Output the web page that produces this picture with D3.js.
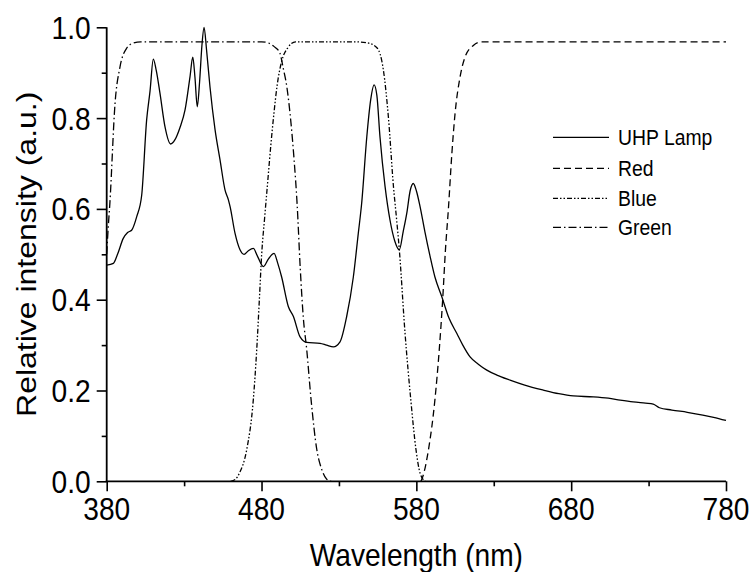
<!DOCTYPE html>
<html><head><meta charset="utf-8">
<script src="https://cdn.jsdelivr.net/npm/d3@7"></script>
<style>html,body{margin:0;padding:0;background:#fff;}svg{display:block;}</style>
</head><body>
<script>
// ---- data ----
const xTicks = [380, 480, 580, 680, 780];
const yTicks = [0.0, 0.2, 0.4, 0.6, 0.8, 1.0];
const seriesNames = ["UHP Lamp", "Red", "Blue", "Green"];

const uhpLamp = [
[380,0.476],[384.3,0.48],[387,0.50],[390.7,0.535],[393.5,0.548],[396.1,0.553],[399.4,0.583],[402.6,0.63],
[405.8,0.796],[408,0.86],[410.1,0.93],[412,0.905],[414.4,0.855],[417.7,0.78],[421.3,0.743],[424,0.752],
[427.4,0.78],[430.6,0.818],[433.8,0.891],[435.6,0.934],[437,0.89],[438.5,0.825],[440,0.88],[441.5,0.96],
[442.9,1.0],[444.5,0.95],[446.7,0.869],[450,0.774],[453.2,0.708],[456.4,0.642],[458.6,0.62],[459.7,0.605],
[462.9,0.546],[466.1,0.51],[468.7,0.50],[471.5,0.508],[474.7,0.513],[477.5,0.495],[481.2,0.473],[484.5,0.49],
[488.1,0.502],[490.5,0.48],[493,0.45],[497.3,0.385],[500.6,0.363],[504.9,0.318],[509.2,0.306],[517.8,0.304],
[522,0.30],[526.4,0.296],[530.7,0.307],[535,0.363],[539.3,0.45],[542.5,0.546],[544.7,0.613],[548,0.759],
[550.5,0.84],[552.7,0.873],[554.5,0.85],[556.5,0.759],[559.8,0.649],[563,0.575],[566,0.53],[569,0.51],
[571.5,0.55],[573.8,0.59],[576,0.64],[578,0.656],[580,0.64],[582.4,0.605],[585.5,0.55],[588.9,0.495],
[592,0.45],[596.4,0.407],[601,0.36],[606.1,0.326],[610,0.30],[614.7,0.274],[620,0.258],[625.5,0.245],
[632,0.234],[640.5,0.223],[650,0.212],[662,0.201],[672,0.193],[681.4,0.188],[694.3,0.186],[704,0.183],
[711.6,0.179],[720,0.175],[728,0.172],[733,0.170],[737,0.162],[745,0.157],[755,0.152],[765,0.146],
[772,0.141],[780,0.134]
];
const redFilter = [
[583,0.0],[584.5,0.014],[587.8,0.069],[592,0.18],[594.8,0.29],[597,0.40],[598.8,0.51],[600.7,0.60],
[602.9,0.72],[605,0.81],[608.2,0.89],[611.5,0.935],[616.8,0.96],[622,0.968],[650,0.968],[780,0.968]
];
const blueFilter = [
[460,0.0],[463,0.004],[466,0.02],[470.4,0.069],[474.7,0.18],[476.9,0.29],[478.6,0.40],[480.1,0.50],
[482,0.58],[484,0.66],[486,0.74],[488,0.81],[490,0.87],[493,0.925],[497,0.955],[502,0.968],[540,0.968],
[548,0.966],[554.5,0.955],[558.7,0.906],[562,0.80],[565.2,0.65],[567.3,0.575],[569,0.51],[572.7,0.326],
[576.4,0.18],[579.8,0.069],[582.4,0.018],[585.6,0.0]
];
const greenFilter = [
[380,0.50],[381,0.56],[382,0.61],[385.4,0.833],[388.6,0.913],[392.9,0.954],[397,0.965],[402,0.968],
[480,0.968],[484,0.966],[488,0.958],[491.9,0.943],[494,0.91],[496.3,0.87],[499,0.79],[501,0.71],
[503,0.61],[505,0.47],[507,0.36],[509.2,0.29],[512,0.18],[515.7,0.07],[519,0.025],[522,0.005],[525,0.0]
];

// ---- layout ----
const W = 753, H = 572;
const X0 = 106.7, X1 = 726, Y0 = 481.3, Y1 = 27.3;
const SX = 0.88; // horizontal condensation of the text
const FONT = "Arial, 'Liberation Sans', Helvetica, sans-serif";

const svg = d3.select("body").append("svg").attr("width", W).attr("height", H);
const x = d3.scaleLinear().domain([380, 780]).range([X0, X1]);
const y = d3.scaleLinear().domain([0, 1]).range([Y0, Y1]);

// series
const line = d3.line().x(d => x(d[0])).y(d => y(d[1])).curve(d3.curveMonotoneX);
const styles = [
  {data: uhpLamp, dash: null},
  {data: redFilter, dash: "7,4"},
  {data: blueFilter, dash: "5,2,1.5,2,1.5,2"},
  {data: greenFilter, dash: "8,3,1.5,3"}
];
styles.forEach(s => {
  svg.append("path").attr("d", line(s.data)).attr("fill", "none")
    .attr("stroke", "#000").attr("stroke-width", 1.3)
    .attr("stroke-dasharray", s.dash);
});

// axes
const xAxis = d3.axisBottom(x).tickValues(d3.range(380, 781, 50)).tickSize(0).tickFormat("");
const gx = svg.append("g").attr("transform", `translate(0,${Y0})`).call(xAxis);
gx.select(".domain").attr("stroke", "#000").attr("stroke-width", 1.8).attr("d", `M${X0 - 1},0H${X1}`);
gx.selectAll(".tick line").attr("stroke", "#000").attr("stroke-width", 1.6)
  .attr("y2", d => (d % 100 === 80 ? 10 : 5));

const yAxis = d3.axisLeft(y).tickValues(d3.range(0, 11).map(i => i / 10)).tickSize(0).tickFormat("");
const gy = svg.append("g").attr("transform", `translate(${X0},0)`).call(yAxis);
gy.select(".domain").attr("stroke", "#000").attr("stroke-width", 1.8).attr("d", `M0,${Y0}V${Y1}`);
gy.selectAll(".tick line").attr("stroke", "#000").attr("stroke-width", 1.6)
  .attr("x2", (d, i) => (i % 2 === 0 ? -10 : -5));

// tick labels
xTicks.forEach(v => {
  svg.append("text").text(v)
    .attr("transform", `translate(${x(v)},${520}) scale(${SX},1)`)
    .attr("text-anchor", "middle").attr("font-family", FONT).attr("font-size", 32).attr("fill", "#000");
});
yTicks.forEach(v => {
  svg.append("text").text(v.toFixed(1))
    .attr("transform", `translate(${X0 - 16},${y(v) + 11.5}) scale(${SX},1)`)
    .attr("text-anchor", "end").attr("font-family", FONT).attr("font-size", 32).attr("fill", "#000");
});

// axis titles
svg.append("text").text("Wavelength (nm)")
  .attr("transform", `translate(${(X0 + X1) / 2},566) scale(${SX},1)`)
  .attr("text-anchor", "middle").attr("font-family", FONT).attr("font-size", 32).attr("fill", "#000");
svg.append("text").text("Relative intensity (a.u.)")
  .attr("transform", `translate(36,${(Y0 + Y1) / 2}) scale(${SX},1) rotate(-90)`)
  .attr("text-anchor", "middle").attr("font-family", FONT).attr("font-size", 32).attr("fill", "#000");

// legend
const legY = [137.3, 168.3, 198.3, 227.3];
styles.forEach((s, i) => {
  svg.append("line").attr("x1", 553).attr("x2", 609).attr("y1", legY[i]).attr("y2", legY[i])
    .attr("stroke", "#000").attr("stroke-width", 1.3).attr("stroke-dasharray", s.dash);
  svg.append("text").text(seriesNames[i])
    .attr("transform", `translate(618,${legY[i] + 8}) scale(${SX},1)`)
    .attr("font-family", FONT).attr("font-size", 22).attr("fill", "#000");
});
</script>
</body></html>
